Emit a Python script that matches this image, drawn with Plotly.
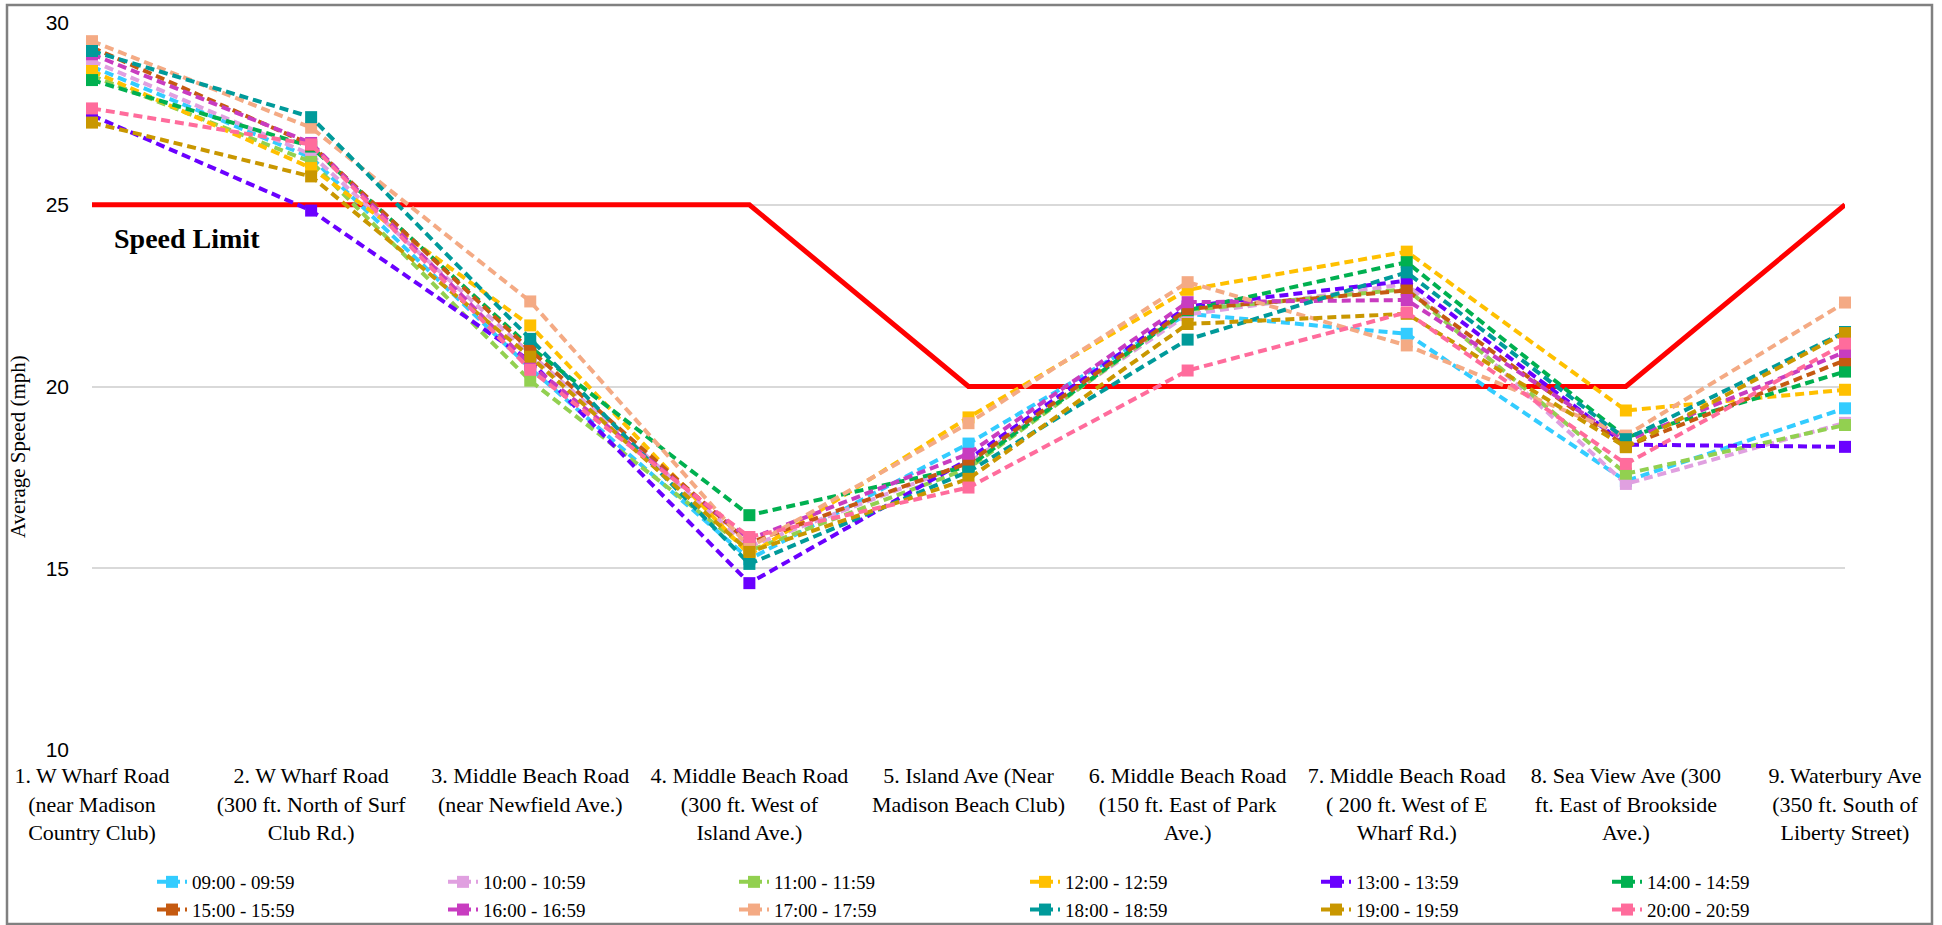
import plotly.graph_objects as go

# ---------------- data ----------------
locations = [
    "1. W Wharf Road<br>(near Madison<br>Country Club)",
    "2. W Wharf Road<br>(300 ft. North of Surf<br>Club Rd.)",
    "3. Middle Beach Road<br>(near Newfield Ave.)",
    "4. Middle Beach Road<br>(300 ft. West of<br>Island Ave.)",
    "5. Island Ave (Near<br>Madison Beach Club)",
    "6. Middle Beach Road<br>(150 ft. East of Park<br>Ave.)",
    "7. Middle Beach Road<br>( 200 ft. West of E<br>Wharf Rd.)",
    "8. Sea View Ave (300<br>ft. East of Brookside<br>Ave.)",
    "9. Waterbury Ave<br>(350 ft. South of<br>Liberty Street)",
]

hour_labels = ["09:00 - 09:59", "10:00 - 10:59", "11:00 - 11:59", "12:00 - 12:59",
               "13:00 - 13:59", "14:00 - 14:59", "15:00 - 15:59", "16:00 - 16:59",
               "17:00 - 17:59", "18:00 - 18:59", "19:00 - 19:59", "20:00 - 20:59"]

h09 = [28.80, 26.30, 20.50, 15.25, 18.43, 22.00, 21.45, 17.40, 19.40]
h10 = [28.96, 26.38, 20.90, 15.60, 17.90, 21.98, 22.82, 17.32, 19.00]
h11 = [28.55, 26.18, 20.16, 15.48, 17.75, 22.10, 22.68, 17.60, 18.94]
h12 = [28.68, 26.01, 21.68, 15.37, 19.15, 22.66, 23.71, 19.34, 19.91]
h13 = [27.46, 24.84, 20.70, 14.59, 18.00, 22.20, 22.91, 18.40, 18.34]
h14 = [28.43, 26.60, 21.08, 16.46, 17.80, 22.10, 23.42, 18.60, 20.41]
h15 = [29.33, 26.65, 21.00, 15.70, 17.90, 22.13, 22.64, 18.35, 20.72]
h16 = [29.14, 26.70, 20.60, 15.80, 18.15, 22.32, 22.38, 18.50, 20.95]
h17 = [29.50, 27.12, 22.34, 15.58, 18.99, 22.87, 21.13, 18.65, 22.31]
h18 = [29.23, 27.41, 21.31, 15.12, 17.66, 21.29, 23.14, 18.55, 21.50]
h19 = [27.26, 25.78, 20.82, 15.45, 17.46, 21.72, 22.00, 18.33, 21.47]
h20 = [27.65, 26.66, 20.46, 15.86, 17.22, 20.44, 22.04, 17.87, 21.18]

speed_limit = [25, 25, 25, 25, 20, 20, 20, 20, 25]

y_ticks = [10, 15, 20, 25, 30]

series = [h09, h10, h11, h12, h13, h14, h15, h16, h17, h18, h19, h20]
colors = ["#33CCFF", "#E0A0E0", "#92D050", "#FFC000", "#6A00FF", "#00B050",
          "#C55A11", "#C83CC0", "#F4AA84", "#009A9A", "#C99700", "#FF6C9C"]

# ---------------- figure ----------------
SERIF = "Liberation Serif, Times New Roman, serif"
SANS = "Liberation Sans, Arial, sans-serif"

fig = go.Figure()

fig.add_trace(go.Scatter(
    x=locations, y=speed_limit, mode="lines",
    line=dict(color="#FF0000", width=5),
    showlegend=False, hoverinfo="skip", cliponaxis=False,
))

for name, vals, col in zip(hour_labels, series, colors):
    fig.add_trace(go.Scatter(
        x=locations, y=vals, name=name, mode="lines+markers",
        line=dict(color=col, width=4, dash="9px,5px"),
        marker=dict(symbol="square", size=12, color=col),
        cliponaxis=False,
    ))

W, H = 1942, 925
L, R, T, B = 92, 97, 23, 175
pw, ph = W - L - R, H - T - B

def px_x(v):
    return (v - L) / pw

def px_y(v):
    return (H - B - v) / ph

fig.update_layout(
    width=W, height=H,
    margin=dict(l=L, r=R, t=T, b=B, autoexpand=False),
    plot_bgcolor="white", paper_bgcolor="white",
    font=dict(family=SERIF, color="#000000"),
    xaxis=dict(
        type="category", range=[0, len(locations) - 1],
        showgrid=False, showline=False, zeroline=False, ticks="",
        tickfont=dict(family=SERIF, size=22, color="#000000"),
        automargin=False, ticklabelstandoff=10,
    ),
    yaxis=dict(
        range=[10, 30], tickvals=y_ticks, showgrid=True,
        gridcolor="#D9D9D9", gridwidth=1.5, zeroline=False, showline=False,
        tickfont=dict(family=SANS, size=21, color="#000000"),
        automargin=False, ticklabelstandoff=22,
    ),
    legend=dict(
        orientation="h", x=px_x(152), y=px_y(863), xanchor="left", yanchor="top",
        entrywidth=246, entrywidthmode="pixels",
        font=dict(family=SERIF, size=19, color="#000000"),
        bgcolor="rgba(0,0,0,0)", itemwidth=30, tracegroupgap=0,
    ),
    showlegend=True,
)

fig.add_annotation(
    text="<b>Speed Limit</b>", xref="paper", yref="paper",
    x=px_x(112), y=px_y(239), xanchor="left", yanchor="middle",
    showarrow=False, font=dict(family=SERIF, size=28, color="#000000"),
)

fig.add_annotation(
    text="Average Speed (mph)", xref="paper", yref="paper",
    x=px_x(18), y=px_y(447), xanchor="center", yanchor="middle",
    textangle=-90, showarrow=False,
    font=dict(family=SERIF, size=21, color="#000000"),
)

fig.add_shape(
    type="rect", xref="paper", yref="paper",
    x0=px_x(7), x1=px_x(1932), y0=px_y(924), y1=px_y(5),
    line=dict(color="#808080", width=2.5), fillcolor="rgba(0,0,0,0)", layer="below",
)

fig.write_html(
    "out.html",
    config={"displayModeBar": False},
    post_script="document.body.style.margin='0';document.body.style.overflow='hidden';",
)
